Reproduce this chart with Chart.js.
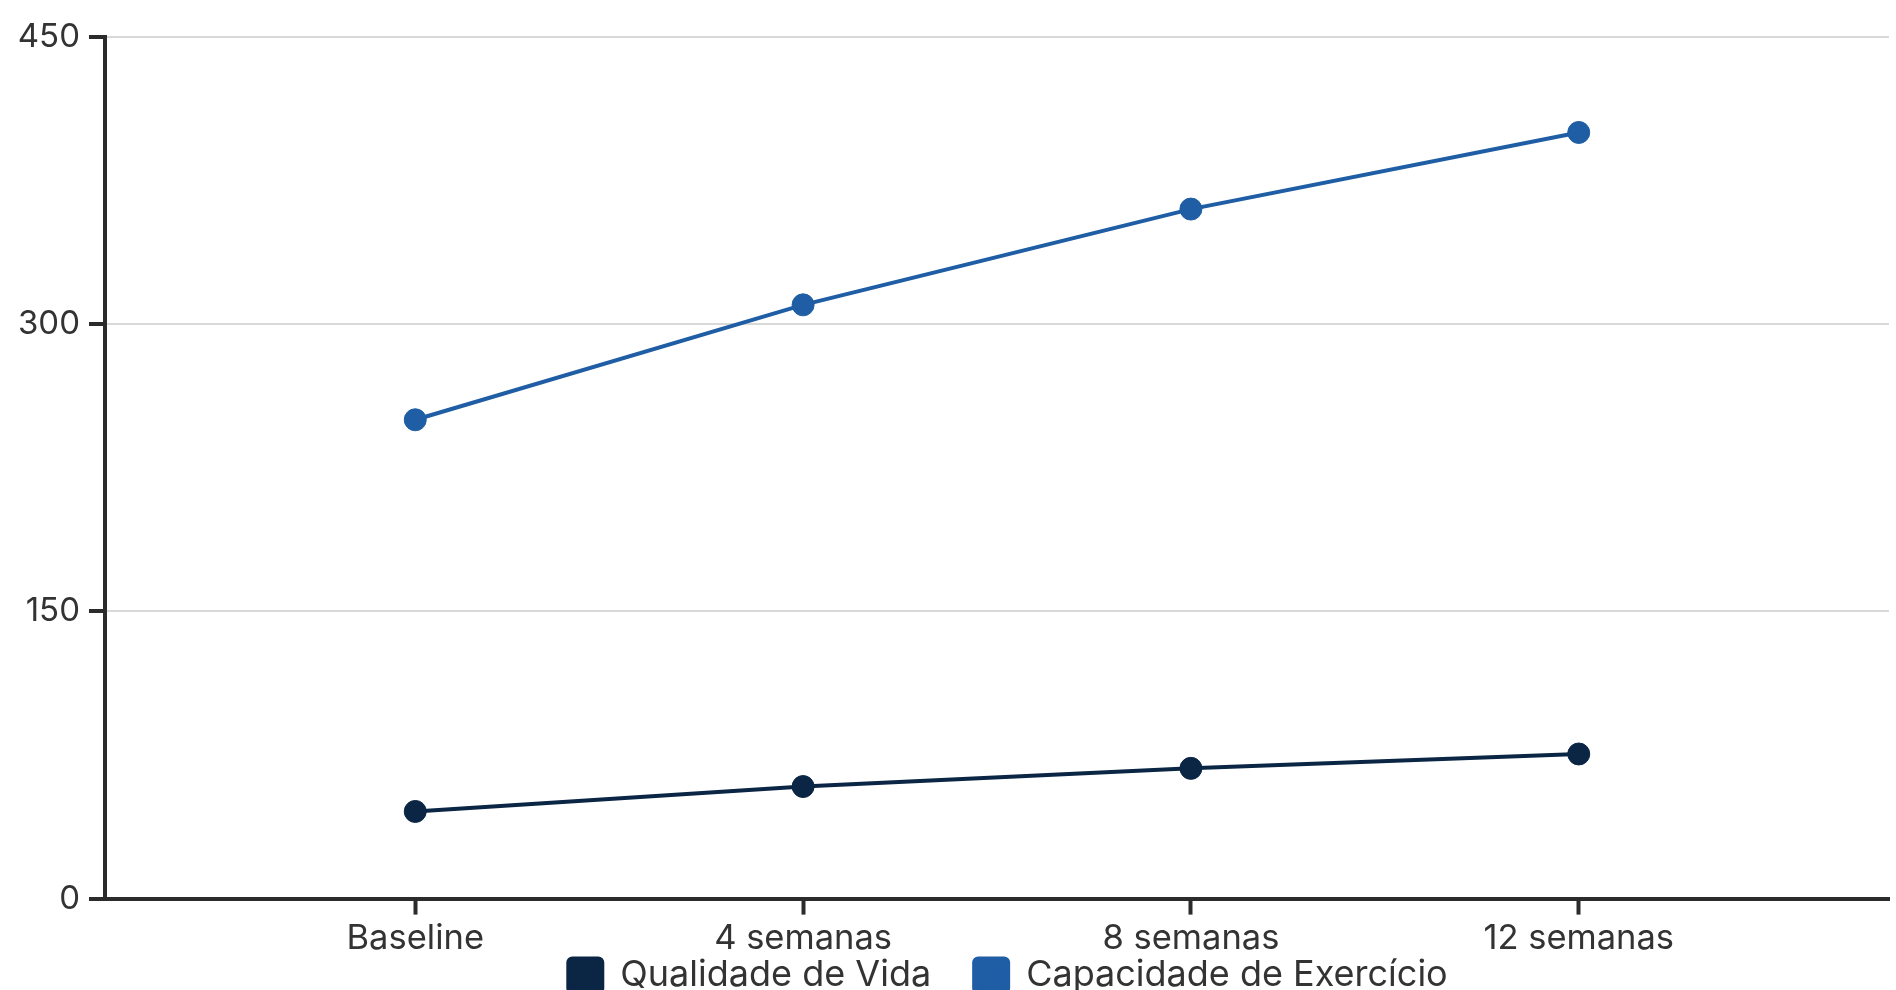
<!DOCTYPE html>
<html>
<head>
<meta charset="utf-8">
<script src="https://cdn.jsdelivr.net/npm/chart.js@4/dist/chart.umd.min.js"></script>
<style>
  html, body { margin: 0; padding: 0; background: #ffffff; overflow: hidden; }
  #wrap { width: 1901px; height: 1051px; }
</style>
</head>
<body>
<div id="wrap"><canvas id="chart" width="1901" height="1051"></canvas></div>
<script>
// Time points along the study
const periodos = ['Baseline', '4 semanas', '8 semanas', '12 semanas'];

// Series values per time point
const qualidadeVida = [45.5, 58.5, 68, 75.5];
const capacidadeExercicio = [250, 310, 360, 400];

// Value axis ticks
const yTicks = [0, 150, 300, 450];

const FONT = 'Inter, "Noto Sans", sans-serif';
const TEXT = '#333333';
const AXIS = '#2b2b2b';

const toPoints = vals => vals.map((v, i) => ({ x: i, y: v }));

// Tuck the legend row up against the category labels and nudge it sideways
const legendPlacement = {
  id: 'legendPlacement',
  afterLayout(chart) {
    const lg = chart.legend;
    const h = lg.bottom - lg.top;
    lg.top = chart.chartArea.bottom + 16;
    lg.bottom = lg.top + h;
    lg.left += 11;
    lg.right += 11;
  }
};

new Chart(document.getElementById('chart'), {
  type: 'line',
  data: {
    datasets: [
      {
        label: 'Qualidade de Vida',
        data: toPoints(qualidadeVida),
        borderColor: '#0b2545',
        backgroundColor: '#0b2545',
        borderWidth: 4,
        pointRadius: 11,
        pointBorderWidth: 1,
        pointHoverRadius: 11,
        tension: 0
      },
      {
        label: 'Capacidade de Exercício',
        data: toPoints(capacidadeExercicio),
        borderColor: '#1f5ea5',
        backgroundColor: '#1f5ea5',
        borderWidth: 4,
        pointRadius: 11,
        pointBorderWidth: 1,
        pointHoverRadius: 11,
        tension: 0
      }
    ]
  },
  options: {
    responsive: false,
    animation: false,
    devicePixelRatio: 1,
    layout: { padding: { top: 36.7, right: 0, bottom: 0, left: 0 } },
    plugins: {
      tooltip: { enabled: false },
      legend: {
        position: 'bottom',
        fullSize: false,
        labels: {
          font: { family: FONT, size: 36 },
          color: TEXT,
          boxWidth: 34,
          boxHeight: 34,
          padding: 43,
          useBorderRadius: true,
          borderRadius: 4
        }
      }
    },
    scales: {
      x: {
        type: 'linear',
        min: -0.8,
        max: 3.8,
        afterBuildTicks: s => { s.ticks = periodos.map((_, i) => ({ value: i })); },
        afterFit: s => { s.paddingLeft = 0; s.paddingRight = 0; },
        ticks: {
          font: { family: FONT, size: 34.5 },
          color: TEXT,
          padding: 3,
          maxRotation: 0,
          callback: v => periodos[v]
        },
        grid: {
          drawOnChartArea: false,
          drawTicks: true,
          tickLength: 16,
          tickWidth: 4,
          tickColor: AXIS
        },
        border: { display: true, color: AXIS, width: 4 }
      },
      y: {
        min: 0,
        max: 450,
        afterBuildTicks: s => { s.ticks = yTicks.map(v => ({ value: v })); },
        afterFit: s => { s.width = 105; },
        ticks: {
          font: { family: FONT, size: 33 },
          color: TEXT,
          padding: 9
        },
        grid: {
          color: '#d9d9d9',
          lineWidth: 2,
          drawTicks: true,
          tickLength: 16,
          tickWidth: 4,
          tickColor: AXIS
        },
        border: { display: true, color: AXIS, width: 4 }
      }
    }
  },
  plugins: [legendPlacement]
});
</script>
</body>
</html>
